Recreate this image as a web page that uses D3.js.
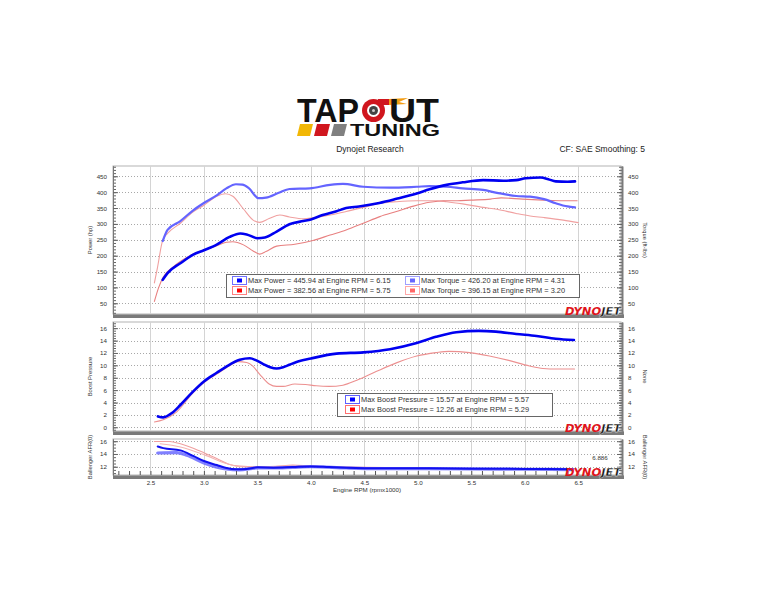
<!DOCTYPE html>
<html><head><meta charset="utf-8">
<script src="https://cdn.jsdelivr.net/npm/d3@7"></script>
<style>body{margin:0;background:#fff}svg{display:block}</style>
</head><body><svg id="c" width="762" height="604"></svg>
<script>
// ---------------- DATA ----------------
const xTickLabels = [2.5, 3.0, 3.5, 4.0, 4.5, 5.0, 5.5, 6.0, 6.5];
const powerTicks = [50, 100, 150, 200, 250, 300, 350, 400, 450];
const boostTicks = [0, 2, 4, 6, 8, 10, 12, 14, 16];
const afrTicks = [12, 14, 16];

// [Engine RPM (x1000), value]
const powerRun1 = [[2.615,124],[2.66,145],[2.78,176],[2.90,203],[3.0,217],[3.12,235],[3.24,259],[3.34,270],[3.40,267],[3.50,255],[3.57,257],[3.68,276],[3.80,299],[3.93,309],[4.0,314],[4.11,328],[4.24,340],[4.33,350],[4.45,355],[4.64,366],[4.80,379],[4.99,396],[5.11,409],[5.27,423],[5.42,431],[5.61,438],[5.80,436],[5.92,438],[6.01,444],[6.15,446],[6.22,441],[6.29,434],[6.40,433],[6.47,434]];
const torqueRun1 = [[2.615,246],[2.66,281],[2.78,309],[2.90,343],[3.0,366],[3.12,390],[3.21,412],[3.30,425],[3.36,424],[3.42,413],[3.51,381],[3.58,383],[3.70,398],[3.80,410],[3.99,412],[4.18,423],[4.30,426],[4.49,417],[4.74,414],[4.99,417],[5.11,419],[5.27,417],[5.42,412],[5.61,407],[5.74,398],[5.92,388],[6.05,386],[6.18,378],[6.29,365],[6.40,355],[6.47,352]];
const powerRun2 = [[2.537,56],[2.575,98],[2.62,133],[2.71,164],[2.90,205],[3.09,227],[3.21,242],[3.27,244],[3.37,234],[3.46,215],[3.52,205],[3.58,213],[3.68,230],[3.85,236],[4.02,248],[4.18,265],[4.33,281],[4.49,302],[4.645,323],[4.80,339],[4.96,356],[5.11,368],[5.24,373],[5.37,373],[5.49,375],[5.68,378],[5.78,382],[5.98,378],[6.17,375],[6.36,373],[6.49,373]];
const torqueRun2 = [[2.537,114],[2.565,161],[2.615,249],[2.66,270],[2.78,302],[2.90,338],[3.0,359],[3.12,387],[3.20,395],[3.27,387],[3.37,347],[3.46,312],[3.52,305],[3.61,317],[3.71,328],[3.80,322],[3.93,316],[4.02,319],[4.18,328],[4.33,339],[4.49,352],[4.645,365],[4.80,370],[4.99,373],[5.18,373],[5.27,370],[5.42,363],[5.61,352],[5.74,346],[5.92,333],[6.05,325],[6.18,320],[6.36,312],[6.50,304]];
const boostRun1 = [[2.57,1.75],[2.62,1.6],[2.70,2.3],[2.78,3.6],[2.90,5.8],[3.0,7.4],[3.12,8.8],[3.21,9.8],[3.335,10.9],[3.43,11.15],[3.49,10.8],[3.555,10.2],[3.62,9.7],[3.68,9.5],[3.74,9.7],[3.80,10.1],[3.86,10.5],[4.0,11.1],[4.24,11.9],[4.49,12.1],[4.74,12.6],[4.99,13.6],[5.17,14.6],[5.36,15.35],[5.57,15.57],[5.73,15.45],[5.92,15.07],[6.11,14.75],[6.29,14.3],[6.46,14.1]];
const boostRun2 = [[2.537,0.85],[2.62,1.2],[2.746,2.5],[2.90,5.6],[3.0,7.2],[3.12,8.6],[3.21,9.6],[3.32,10.6],[3.40,10.45],[3.45,10.0],[3.52,8.6],[3.61,7.0],[3.68,6.6],[3.74,6.6],[3.85,7.0],[3.95,6.9],[4.05,6.7],[4.17,6.6],[4.30,6.8],[4.43,7.6],[4.61,9.0],[4.80,10.4],[4.99,11.5],[5.17,12.05],[5.29,12.26],[5.485,12.05],[5.67,11.5],[5.85,10.8],[6.045,9.9],[6.17,9.5],[6.30,9.4],[6.465,9.4]];
const afrRun1a = [[2.568,15.18],[2.62,14.92],[2.78,14.56],[2.90,13.7],[3.0,12.9],[3.12,12.26],[3.21,11.8],[3.30,11.6],[3.40,11.65],[3.5,11.9],[3.65,11.85],[3.83,11.95],[4.0,12.05],[4.17,11.95],[4.33,11.85],[4.64,11.75],[5.0,11.75],[5.5,11.7],[6.0,11.65],[6.45,11.6]];
const afrRun1b = [[2.568,14.15],[2.745,14.2],[2.84,13.8],[3.0,12.6],[3.21,11.64],[3.33,11.5],[3.5,11.8],[3.65,11.8],[3.83,11.9],[4.0,12.0],[4.33,11.8],[4.64,11.7],[5.0,11.7],[5.5,11.65],[6.0,11.6],[6.45,11.55]];
const afrRun2a = [[2.537,15.95],[2.68,15.95],[2.78,15.6],[2.90,14.9],[3.0,14.2],[3.12,13.3],[3.24,12.36],[3.335,12.1],[3.5,12.0],[3.65,12.0],[3.83,12.26],[4.0,12.1],[4.33,11.95],[5.0,11.8],[6.0,11.7],[6.45,11.65]];
const afrRun2b = [[2.59,15.6],[2.78,15.1],[3.0,13.9],[3.21,12.5],[3.335,12.0],[3.5,11.95],[3.83,12.15],[4.0,12.05],[5.0,11.75],[6.45,11.6]];

const powerLegend = ["Max Power = 445.94 at Engine RPM = 6.15", "Max Power = 382.56 at Engine RPM = 5.75"];
const torqueLegend = ["Max Torque = 426.20 at Engine RPM = 4.31", "Max Torque = 396.15 at Engine RPM = 3.20"];
const boostLegend = ["Max Boost Pressure = 15.57 at Engine RPM = 5.57", "Max Boost Pressure = 12.26 at Engine RPM = 5.29"];

// ---------------- DRAW ----------------
const svg = d3.select("#c");
const FONT = "Liberation Sans, Arial, sans-serif";
const x = d3.scaleLinear().domain([2.15, 6.9]).range([113, 621]);

const panels = [
  {y0:166, y1:314, domain:[16.3,482.4], ticks:powerTicks, minorStep:10, lt:"Power (hp)", rt:"Torque (ft-lbs)"},
  {y0:322, y1:431, domain:[-0.6,17.0], ticks:boostTicks, minorStep:0.4, lt:"Boost Pressure", rt:"None"},
  {y0:439, y1:475, domain:[10.7,16.35], ticks:afrTicks, minorStep:0.5, lt:"Ballenger AFR(0)", rt:"Ballenger AFR(0)"}
];
panels.forEach((p,i) => {
  p.y = d3.scaleLinear().domain(p.domain).range([p.y1, p.y0]);
  const g = svg.append("g");
  g.append("rect").attr("x",113).attr("y",p.y0).attr("width",508).attr("height",p.y1-p.y0)
    .attr("fill","#fff").attr("stroke","#b4b4b4").attr("stroke-width",1);
  g.selectAll(null).data(xTickLabels).enter().append("line")
    .attr("x1",d=>Math.round(x(d))+0.5).attr("x2",d=>Math.round(x(d))+0.5)
    .attr("y1",p.y0).attr("y2",p.y1).attr("stroke","#d4d4d4").attr("stroke-width",1);
  g.selectAll(null).data(p.ticks).enter().append("line")
    .attr("x1",113).attr("x2",621)
    .attr("y1",d=>Math.round(p.y(d))+0.5).attr("y2",d=>Math.round(p.y(d))+0.5)
    .attr("stroke","#a8a8a8").attr("stroke-width",1).attr("stroke-dasharray","1,2");
  svg.append("clipPath").attr("id","clip"+i).append("rect")
    .attr("x",113).attr("y",p.y0).attr("width",508).attr("height",p.y1-p.y0);
  p.lines = svg.append("g").attr("clip-path",`url(#clip${i})`);
  svg.append("rect").attr("x",113).attr("y",p.y1).attr("width",511).attr("height",4).attr("fill","#7a7a7a");
  svg.append("rect").attr("x",113).attr("y",p.y1).attr("width",511).attr("height",1).attr("fill","#a0a0a0");
  const [lo,hi] = p.domain;
  const minor = d3.range(Math.ceil(lo/p.minorStep)*p.minorStep, hi, p.minorStep).map(v=>+v.toFixed(2));
  const lMinor = svg.append("g").attr("transform","translate(113,0)")
    .call(d3.axisLeft(p.y).tickValues(minor).tickSizeInner(-3).tickSizeOuter(0).tickFormat(""));
  const rMinor = svg.append("g").attr("transform","translate(622,0)")
    .call(d3.axisRight(p.y).tickValues(minor).tickSizeInner(-3).tickSizeOuter(0).tickFormat(""));
  const lAx = svg.append("g").attr("transform","translate(113,0)")
    .call(d3.axisLeft(p.y).tickValues(p.ticks).tickSizeInner(-5).tickSizeOuter(0).tickPadding(6).tickFormat(d3.format("d")));
  const rAx = svg.append("g").attr("transform","translate(622,0)")
    .call(d3.axisRight(p.y).tickValues(p.ticks).tickSizeInner(-5).tickSizeOuter(0).tickPadding(6).tickFormat(d3.format("d")));
  [lMinor,rMinor,lAx,rAx].forEach(a=>{
    a.selectAll("line").attr("stroke","#666");
    a.select(".domain").attr("stroke","#777");
    a.selectAll("text").attr("font-family",FONT).attr("font-size",6.2).attr("fill","#333");
  });
  rAx.select(".domain").attr("stroke","#7a7a7a").attr("stroke-width",2);
  const cy = (p.y0+p.y1)/2;
  svg.append("text").attr("transform",`translate(92,${cy}) rotate(-90)`).attr("text-anchor","middle")
    .attr("font-family",FONT).attr("font-size",5.8).attr("fill","#333").text(p.lt);
  svg.append("text").attr("transform",`translate(643,${cy}) rotate(90)`).attr("text-anchor","middle")
    .attr("font-family",FONT).attr("font-size",5.8).attr("fill","#333").text(p.rt);
});

function drawLine(p, data, color, width, op){
  p.lines.append("path").datum(data)
    .attr("d", d3.line().x(d=>x(d[0])).y(d=>p.y(d[1])).curve(d3.curveMonotoneX))
    .attr("fill","none").attr("stroke",color).attr("stroke-width",width)
    .attr("stroke-opacity",op||1).attr("stroke-linejoin","round").attr("stroke-linecap","round");
}
const [P0,P1,P2] = panels;
drawLine(P0, torqueRun2, "#f0a0a0", 1.1);
drawLine(P0, powerRun2, "#e88080", 1.1);
drawLine(P0, torqueRun1, "#6464ff", 2.2);
drawLine(P0, powerRun1, "#0000f0", 2.6);
drawLine(P1, boostRun2, "#ec9090", 1.1);
drawLine(P1, boostRun1, "#0000f0", 2.6);
drawLine(P2, afrRun2a, "#f0a0a0", 1.1);
drawLine(P2, afrRun2b, "#f4b4b4", 1.1);
drawLine(P2, afrRun1b, "#6a6aff", 3.2, 0.85);
drawLine(P2, afrRun1a, "#1010f0", 2.0);

// x axis (bottom panel)
const minorX = d3.range(22, 69).map(v=>v/10);
const xm = svg.append("g").attr("transform",`translate(0,${P2.y1})`)
  .call(d3.axisBottom(x).tickValues(minorX).tickSizeInner(-4).tickSizeOuter(0).tickFormat(""));
xm.select(".domain").remove(); xm.selectAll("line").attr("stroke","#555");
const xa = svg.append("g").attr("transform",`translate(0,${P2.y1+4})`)
  .call(d3.axisBottom(x).tickValues(xTickLabels).tickSize(0).tickPadding(2).tickFormat(d3.format(".1f")));
xa.select(".domain").remove();
xa.selectAll("text").attr("font-family",FONT).attr("font-size",6.2).attr("fill","#333");
svg.append("text").attr("x",367).attr("y",492).attr("text-anchor","middle")
  .attr("font-family",FONT).attr("font-size",6.2).attr("fill","#333").text("Engine RPM (rpmx1000)");

svg.append("text").attr("x",600).attr("y",459.5).attr("text-anchor","middle")
  .attr("font-family",FONT).attr("font-size",6.2).attr("fill","#333").text("6.886");

// legends
function legend(x0,y0,w,rows,cols){
  svg.append("rect").attr("x",x0+0.5).attr("y",y0+0.5).attr("width",w).attr("height",rows.length*10+3)
    .attr("fill","#fff").attr("stroke","#666").attr("stroke-width",1);
  cols.forEach(c=>{
    c.items.forEach((t,j)=>{
      const yy = y0+2+j*10;
      svg.append("rect").attr("x",c.x+0.5).attr("y",yy+0.5).attr("width",14).attr("height",8)
        .attr("fill","#fff").attr("stroke",c.outline[j]).attr("stroke-width",1);
      svg.append("rect").attr("x",c.x+5).attr("y",yy+2.5).attr("width",5).attr("height",4).attr("fill",c.fill[j]);
      svg.append("text").attr("x",c.x+16).attr("y",yy+7.3).attr("font-family",FONT).attr("font-size",7.4)
        .attr("fill","#333").text(t);
    });
  });
}
legend(226,274,353,[0,1],[
  {x:232, items:powerLegend, outline:["#7070ff","#ff8080"], fill:["#0000ff","#ff0000"]},
  {x:405, items:torqueLegend, outline:["#a0a0ff","#ffa8a8"], fill:["#6666ff","#ff6666"]}
]);
legend(337,393,215,[0,1],[
  {x:345, items:boostLegend, outline:["#6060ff","#ff7070"], fill:["#0000ff","#ff0000"]}
]);

// Dynojet logos (single text, two coloured parts)
panels.forEach(p=>{
  const t = svg.append("text").attr("x",565).attr("y",p.y1+0.5)
    .attr("font-family","DejaVu Sans, sans-serif").attr("font-weight","bold").attr("font-style","italic")
    .attr("font-size",10.5).attr("textLength",56).attr("lengthAdjust","spacingAndGlyphs");
  t.append("tspan").attr("fill","#e0141c").text("DYNO");
  t.append("tspan").attr("fill","#111").attr("stroke","#fff").attr("stroke-width",0.3).text("JET");
});

// Header logo
const lg = svg.append("g");
lg.append("text").attr("x",297).attr("y",122).attr("font-family",FONT).attr("font-weight","bold")
  .attr("font-size",33).attr("fill","#111").attr("textLength",62).attr("lengthAdjust","spacingAndGlyphs").text("TAP");
lg.append("circle").attr("cx",373.5).attr("cy",110.5).attr("r",11.5).attr("fill","#d0161e");
lg.append("circle").attr("cx",373.5).attr("cy",110.5).attr("r",6.5).attr("fill","#fff");
lg.append("circle").attr("cx",373.5).attr("cy",110.5).attr("r",4.5).attr("fill","#444");
lg.append("circle").attr("cx",373.5).attr("cy",110.5).attr("r",1.5).attr("fill","#ccc");
lg.append("rect").attr("x",378).attr("y",99).attr("width",11).attr("height",6).attr("fill","#d0161e");
lg.append("path").attr("d","M389,99 L408,98 L399,102 L407,104 L389,105 Z").attr("fill","#f39c12");
lg.append("text").attr("x",389).attr("y",122).attr("font-family",FONT).attr("font-weight","bold")
  .attr("font-size",33).attr("fill","#111").attr("textLength",50).attr("lengthAdjust","spacingAndGlyphs").text("UT");
[["#f2b705",297],["#d0161e",314],["#808080",331]].forEach(([c,x0])=>{
  lg.append("path").attr("d",`M${x0+3},124 L${x0+16},124 L${x0+13},136 L${x0},136 Z`).attr("fill",c);
});
lg.append("text").attr("x",350).attr("y",136).attr("font-family",FONT).attr("font-weight","bold")
  .attr("font-size",17).attr("fill","#111").attr("textLength",90).attr("lengthAdjust","spacingAndGlyphs").text("TUNING");

svg.append("text").attr("x",370).attr("y",152).attr("text-anchor","middle").attr("font-family",FONT)
  .attr("font-size",8.5).attr("fill","#222").text("Dynojet Research");
svg.append("text").attr("x",645).attr("y",152).attr("text-anchor","end").attr("font-family",FONT)
  .attr("font-size",8.5).attr("fill","#222").text("CF: SAE Smoothing: 5");
</script></body></html>
